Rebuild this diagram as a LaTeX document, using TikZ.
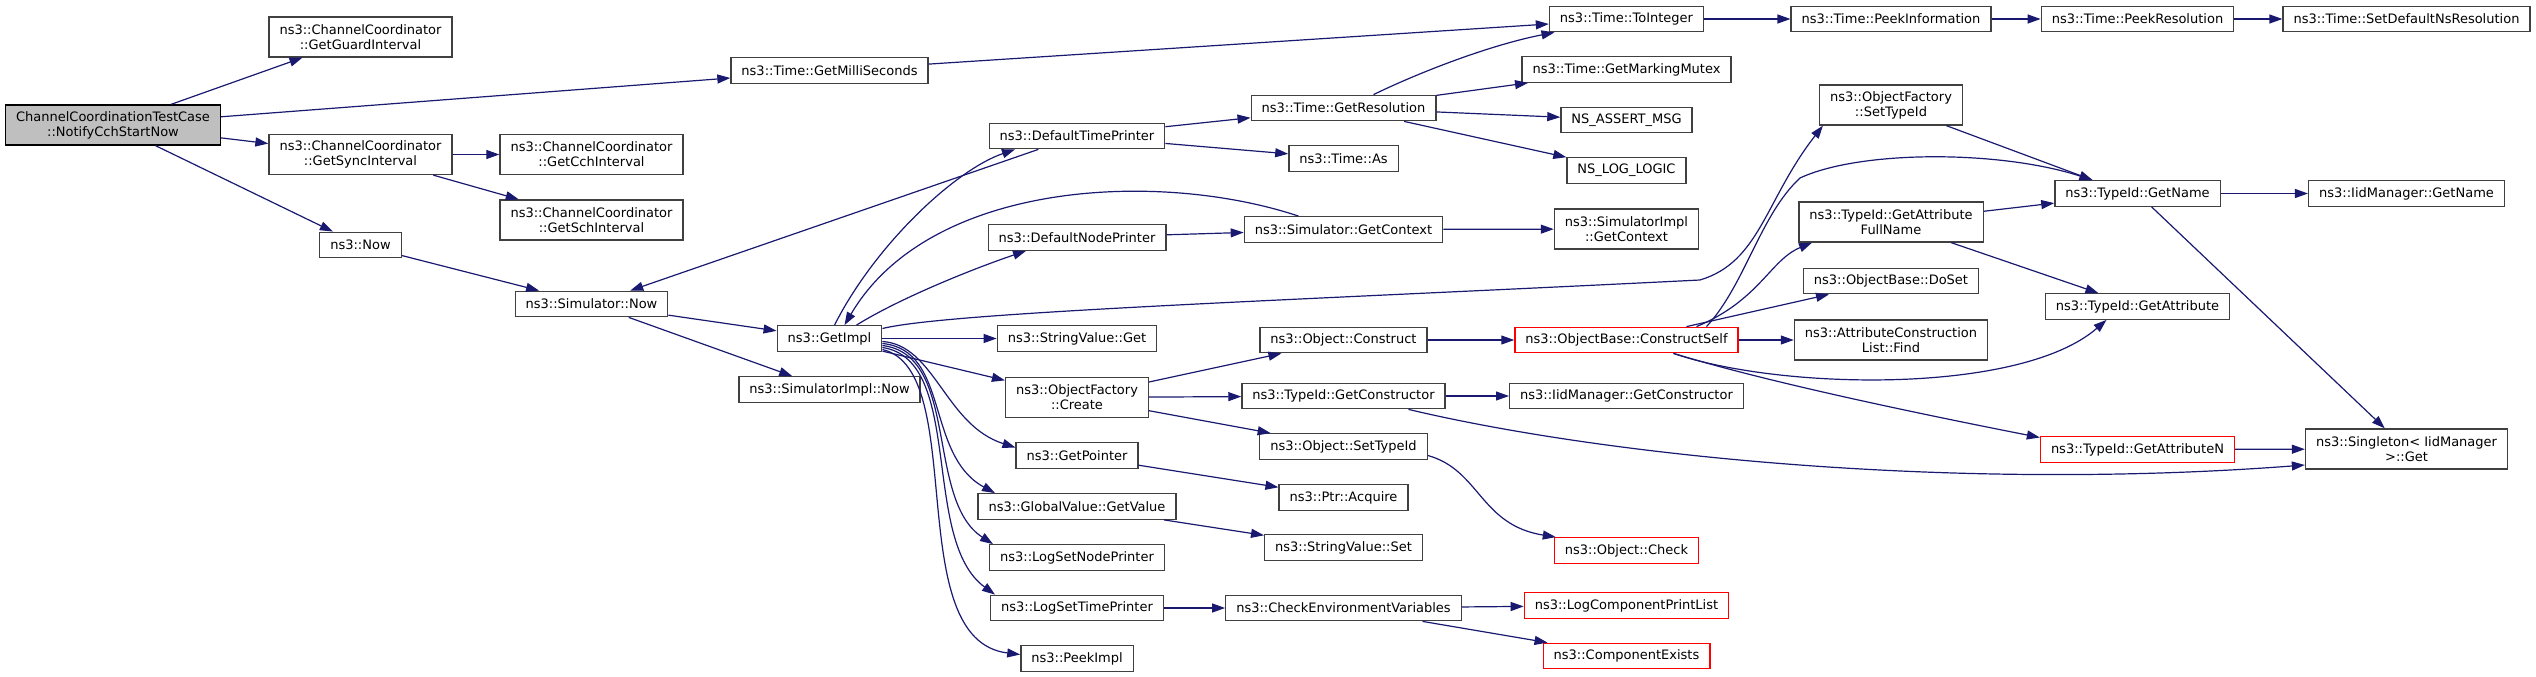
\documentclass[tikz,border=0pt]{standalone}
\usepackage{fontspec}
\setmainfont{DejaVu Sans}
\usepackage{xcolor}
\usepackage{tikz}
\usetikzlibrary{arrows.meta}
\definecolor{edgeblue}{HTML}{191970}
\definecolor{boxgrey}{HTML}{404040}

\begin{document}
\begin{tikzpicture}[
  x=1pt,
  y=-1pt,
  font=\fontsize{13}{15}\selectfont,
  fn/.style={
    draw=boxgrey,
    line width=1.3pt,
    fill=white,
    align=center,
    inner xsep=10.5pt,
    inner ysep=2pt,
    minimum height=25.5pt
  },
  fntwo/.style={
    fn,
    minimum height=40pt
  },
  root/.style={
    fntwo,
    draw=black,
    fill=black!25
  },
  trunc/.style={
    fn,
    draw=red
  },
  call/.style={
    -{Triangle[length=13pt,width=9pt]},
    line width=1.2pt,
    draw=edgeblue,
    fill=none
  }
]
\useasboundingbox (0,0) rectangle (2536,677);

%-----------------------------
% Caller and first calls
%-----------------------------
\node[root] (notify) at (113,125) {ChannelCoordinationTestCase\\::NotifyCchStartNow};

\node[fntwo] (guard) at (360.5,37)    {ns3::ChannelCoordinator\\::GetGuardInterval};
\node[fntwo] (sync)  at (360.5,154.5) {ns3::ChannelCoordinator\\::GetSyncInterval};
\node[fn]    (nsnow) at (360.5,245)   {ns3::Now};

\node[fntwo] (cch)    at (591.5,154.5) {ns3::ChannelCoordinator\\::GetCchInterval};
\node[fntwo] (sch)    at (591.5,220)   {ns3::ChannelCoordinator\\::GetSchInterval};
\node[fn]    (simnow) at (591.5,304)   {ns3::Simulator::Now};

\node[fn] (millis)     at (829.5,70.5)  {ns3::Time::GetMilliSeconds};
\node[fn] (getimpl)    at (829.5,338.5) {ns3::GetImpl};
\node[fn] (simimplnow) at (829.5,389.5) {ns3::SimulatorImpl::Now};

%-----------------------------
% Callees of GetImpl
%-----------------------------
\node[fn]    (timeprinter)    at (1077,136)   {ns3::DefaultTimePrinter};
\node[fn]    (nodeprinter)    at (1077,237.5) {ns3::DefaultNodePrinter};
\node[fn]    (strget)         at (1077,338.5) {ns3::StringValue::Get};
\node[fntwo] (create)         at (1077,397.5) {ns3::ObjectFactory\\::Create};
\node[fn]    (getpointer)     at (1077,455.5) {ns3::GetPointer};
\node[fn]    (getvalue)       at (1077,506.5) {ns3::GlobalValue::GetValue};
\node[fn]    (lognodeprinter) at (1077,557.5) {ns3::LogSetNodePrinter};
\node[fn]    (logtimeprinter) at (1077,608)   {ns3::LogSetTimePrinter};
\node[fn]    (peekimpl)       at (1077,658.5) {ns3::PeekImpl};

\node[fn] (resolution)   at (1343.5,108)   {ns3::Time::GetResolution};
\node[fn] (timeas)       at (1343.5,158.5) {ns3::Time::As};
\node[fn] (getcontext)   at (1343.5,229.5) {ns3::Simulator::GetContext};
\node[fn] (construct)    at (1343.5,340)   {ns3::Object::Construct};
\node[fn] (getctor)      at (1343.5,396)   {ns3::TypeId::GetConstructor};
\node[fn] (objsettypeid) at (1343.5,446.5) {ns3::Object::SetTypeId};
\node[fn] (acquire)      at (1343.5,497.5) {ns3::Ptr::Acquire};
\node[fn] (strset)       at (1343.5,547.5) {ns3::StringValue::Set};
\node[fn] (checkenv)     at (1343.5,608)   {ns3::CheckEnvironmentVariables};

%-----------------------------
% Deeper levels
%-----------------------------
\node[fn]    (tointeger)     at (1626.5,19)    {ns3::Time::ToInteger};
\node[fn]    (mutex)         at (1626.5,69.5)  {ns3::Time::GetMarkingMutex};
\node[fn]    (assertmsg)     at (1626.5,120)   {NS\_ASSERT\_MSG};
\node[fn]    (loglogic)      at (1626.5,170.5) {NS\_LOG\_LOGIC};
\node[fntwo] (implcontext)   at (1626.5,229)   {ns3::SimulatorImpl\\::GetContext};
\node[trunc] (constructself) at (1626.5,340)   {ns3::ObjectBase::ConstructSelf};
\node[fn]    (iidctor)       at (1626.5,396)   {ns3::IidManager::GetConstructor};
\node[trunc] (objcheck)      at (1626.5,550.5) {ns3::Object::Check};
\node[trunc] (printlist)     at (1626.5,605.5) {ns3::LogComponentPrintList};
\node[trunc] (compexists)    at (1626.5,656)   {ns3::ComponentExists};

\node[fn]    (peekinfo)      at (1891,19)  {ns3::Time::PeekInformation};
\node[fntwo] (factsettypeid) at (1891,105) {ns3::ObjectFactory\\::SetTypeId};
\node[fntwo] (attrfullname)  at (1891,222) {ns3::TypeId::GetAttribute\\FullName};
\node[fn]    (doset)         at (1891,281) {ns3::ObjectBase::DoSet};
\node[fntwo] (findattr)      at (1891,340) {ns3::AttributeConstruction\\List::Find};

\node[fn]    (peekres)  at (2137.5,19)    {ns3::Time::PeekResolution};
\node[fn]    (typename) at (2137.5,193.5) {ns3::TypeId::GetName};
\node[fn]    (getattr)  at (2137.5,306.5) {ns3::TypeId::GetAttribute};
\node[trunc] (getattrn) at (2137.5,449.5) {ns3::TypeId::GetAttributeN};

\node[fn]    (setdefault) at (2406.5,19)    {ns3::Time::SetDefaultNsResolution};
\node[fn]    (iidname)    at (2406.5,193.5) {ns3::IidManager::GetName};
\node[fntwo] (singleton)  at (2406.5,449)   {ns3::Singleton< IidManager\\>::Get};

%-----------------------------
% Calls
%-----------------------------
\draw[call] (notify) -- (guard);
\draw[call] (notify) -- (millis);
\draw[call] (notify) -- (sync);
\draw[call] (notify) -- (nsnow);
\draw[call] (sync) -- (cch);
\draw[call] (sync) -- (sch);
\draw[call] (nsnow) -- (simnow);
\draw[call] (millis) -- (tointeger);
\draw[call] (simnow) -- (getimpl);
\draw[call] (simnow) -- (simimplnow);
\draw[call] (timeprinter) -- (simnow);

\draw[call] ([xshift=5pt]getimpl.north) .. controls (875,245) and (955,170) .. ([xshift=-62pt]timeprinter.south);
\draw[call] ([xshift=-45pt]getcontext.north) .. controls (1160,170) and (930,180) .. ([xshift=15pt]getimpl.north);
\draw[call] ([xshift=27pt]getimpl.north) .. controls (900,298) and (975,268) .. ([xshift=-51pt]nodeprinter.south);

\draw[call] (timeprinter) -- (resolution);
\draw[call] (timeprinter) -- (timeas);
\draw[call] (nodeprinter) -- (getcontext);
\draw[call] (getcontext) -- (implcontext);
\draw[call] ([xshift=30pt]resolution.north) .. controls (1420,72) and (1490,45) .. ([xshift=-72pt]tointeger.south);
\draw[call] (resolution) -- (mutex);
\draw[call] (resolution) -- (assertmsg);
\draw[call] (resolution) -- (loglogic);
\draw[call] (tointeger) -- (peekinfo);
\draw[call] (peekinfo) -- (peekres);
\draw[call] (peekres) -- (setdefault);

% GetImpl fan
\draw[call] (getimpl) -- (strget);
\draw[call] (getimpl) -- (create);
\draw[call] ([yshift=-3pt]getimpl.east) .. controls (935,345) and (945,425) .. ([yshift=8pt]getpointer.west);
\draw[call] ([yshift=-5pt]getimpl.east) .. controls (950,350) and (925,455) .. ([xshift=-82pt]getvalue.north);
\draw[call] ([yshift=-7pt]getimpl.east) .. controls (960,355) and (925,500) .. ([xshift=-84pt]lognodeprinter.north);
\draw[call] ([yshift=-9pt]getimpl.east) .. controls (965,360) and (920,540) .. ([xshift=-82pt]logtimeprinter.north);
\draw[call] ([yshift=-11pt]getimpl.east) .. controls (970,370) and (900,640) .. ([yshift=4pt]peekimpl.west);
\draw[call] ([yshift=10pt]getimpl.east) .. controls (950,312) and (1300,300) .. (1700,280)
  .. controls (1760,262) and (1765,200) .. ([xshift=4pt]factsettypeid.south west);

% object construction
\draw[call] (create) -- (construct);
\draw[call] (create) -- (getctor);
\draw[call] (create) -- (objsettypeid);
\draw[call] (construct) -- (constructself);
\draw[call] (getctor) -- (iidctor);
\draw[call] ([xshift=65pt]getctor.south) .. controls (1600,455) and (1950,492) .. ([yshift=-16pt]singleton.west);
\draw[call] ([yshift=-9pt]objsettypeid.east) .. controls (1480,470) and (1480,525) .. ([xshift=2pt]objcheck.north west);
\draw[call] (getpointer) -- (acquire);
\draw[call] (getvalue) -- (strset);
\draw[call] (logtimeprinter) -- (checkenv);
\draw[call] (checkenv) -- (printlist);
\draw[call] (checkenv) -- (compexists);

\draw[call] (constructself) -- (findattr);
\draw[call] ([xshift=60pt]constructself.north) -- ([xshift=-62pt]doset.south);
\draw[call] ([xshift=70pt]constructself.north) .. controls (1760,300) and (1770,260) .. ([xshift=-79pt]attrfullname.south);
\draw[call] ([xshift=80pt]constructself.north) .. controls (1745,285) and (1760,215) .. (1800,178)
  .. controls (1860,150) and (2000,150) .. ([xshift=-45pt]typename.north);
\draw[call] ([xshift=47pt]constructself.south) .. controls (1760,380) and (1900,410) .. ([yshift=12pt]getattrn.west);
\draw[call] ([xshift=47pt]constructself.south) .. controls (1780,390) and (2020,395) .. ([xshift=-31pt]getattr.south);

\draw[call] (factsettypeid) -- ([xshift=-45pt]typename.north);
\draw[call] (attrfullname) -- (typename);
\draw[call] (attrfullname) -- (getattr);
\draw[call] (typename) -- (iidname);
\draw[call] (typename) -- (singleton);
\draw[call] (getattrn) -- (singleton);

\end{tikzpicture}
\end{document}
